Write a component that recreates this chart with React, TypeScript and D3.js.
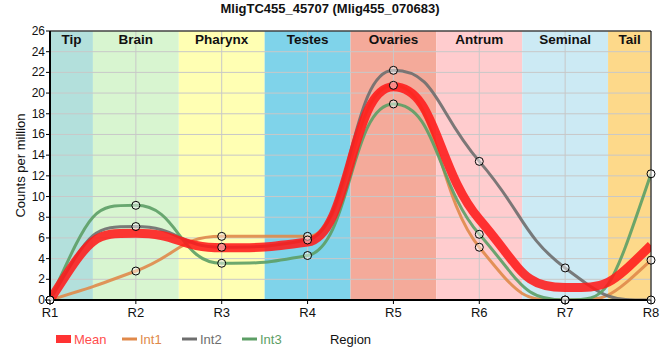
import React from "react";
import * as d3 from "d3";

const regions = ["R1", "R2", "R3", "R4", "R5", "R6", "R7", "R8"];
const bandNames = ["Tip", "Brain", "Pharynx", "Testes", "Ovaries", "Antrum", "Seminal", "Tail"];
const bandColors = ["#b3e0dc", "#d8f5d0", "#ffffb3", "#7fd3ea", "#f4aa9a", "#ffccce", "#cceaf4", "#fdd98a"];
const int1 = [0, 2.8, 6.15, 6.15, 20.75, 5.1, 0, 3.85];
const int2 = [0, 7.1, 5.1, 5.8, 22.2, 13.4, 3.1, 0];
const int3 = [0, 9.15, 3.55, 4.3, 18.95, 6.35, 0, 12.2];
const mean = [0, 6.45, 5.05, 5.6, 20.6, 7.8, 1.2, 5.3];
const yTicks = [0, 2, 4, 6, 8, 10, 12, 14, 16, 18, 20, 22, 24, 26];

const W = 660, H = 360;
const L = 50, R = 651, T = 31, B = 300;
const ARM = 0.5;

// monotone-style tangents with long, flat Bezier arms (plateaus at extremes)
function smoothPath(pts: [number, number][]): string {
  const n = pts.length;
  const s: number[] = [];
  for (let i = 0; i < n - 1; i++) s.push((pts[i + 1][1] - pts[i][1]) / (pts[i + 1][0] - pts[i][0]));
  const m: number[] = new Array(n).fill(0);
  for (let i = 1; i < n - 1; i++) {
    const s0 = s[i - 1], s1 = s[i];
    const p = (s0 + s1) / 2;
    m[i] = (Math.sign(s0) + Math.sign(s1)) * Math.min(Math.abs(s0), Math.abs(s1), 0.5 * Math.abs(p)) || 0;
  }
  m[0] = 2 * s[0] - m[1];
  m[n - 1] = 2 * s[n - 2] - m[n - 2];
  const path = d3.path();
  path.moveTo(pts[0][0], pts[0][1]);
  for (let i = 0; i < n - 1; i++) {
    const [x0, y0] = pts[i];
    const [x1, y1] = pts[i + 1];
    const h = x1 - x0;
    const a = h * ARM;
    path.bezierCurveTo(x0 + a, y0 + m[i] * a, x1 - a, y1 - m[i + 1] * a, x1, y1);
  }
  return path.toString();
}

export default function App() {
  const x = d3.scalePoint<string>().domain(regions).range([L, R]);
  const y = d3.scaleLinear().domain([0, 26]).range([B, T]);
  const step = x.step();
  const toPath = (data: number[]) =>
    smoothPath(data.map((v, i) => [x(regions[i]) as number, y(v)] as [number, number]));

  const series = [
    { name: "Int1", data: int1, color: "#e0894a" },
    { name: "Int2", data: int2, color: "#6e6e6e" },
    { name: "Int3", data: int3, color: "#5c9e65" },
  ];

  return (
    <svg
      width={W}
      height={H}
      style={{ position: "absolute", left: 0, top: 0, background: "#fff" }}
      fontFamily="'Liberation Sans', Arial, sans-serif"
    >
      <defs>
        <clipPath id="plot">
          <rect x={L} y={T} width={R - L} height={B - T} />
        </clipPath>
      </defs>
      {/* bands */}
      {bandNames.map((n, i) => {
        const cx = x(regions[i]) as number;
        const x0 = Math.max(L, cx - step / 2);
        const x1 = Math.min(R, cx + step / 2);
        return <rect key={n} x={x0} y={T} width={x1 - x0} height={B - T} fill={bandColors[i]} />;
      })}
      {/* grid */}
      {yTicks.map((t) => (
        <line key={"h" + t} x1={L} x2={R} y1={y(t)} y2={y(t)} stroke="#c8c8c8" strokeWidth={1} />
      ))}
      {regions.map((r) => (
        <line key={"v" + r} x1={x(r)} x2={x(r)} y1={T} y2={B} stroke="#c8c8c8" strokeWidth={1} />
      ))}
      {/* band labels */}
      {bandNames.map((n, i) => {
        const cx = x(regions[i]) as number;
        const x0 = Math.max(L, cx - step / 2);
        const x1 = Math.min(R, cx + step / 2);
        return (
          <text key={"l" + n} x={(x0 + x1) / 2} y={T + 12.5} textAnchor="middle" fontSize={13.5} fontWeight="bold" fill="#111">
            {n}
          </text>
        );
      })}
      {/* lines */}
      <g clipPath="url(#plot)">
        {series.map((s) => (
          <path key={s.name} d={toPath(s.data)} fill="none" stroke={s.color} strokeWidth={3} strokeOpacity={0.9} />
        ))}
        <path d={toPath(mean)} fill="none" stroke="#ff1a1a" strokeWidth={9} strokeOpacity={0.88} />
      </g>
      {/* frame */}
      <line x1={L} x2={R} y1={T} y2={T} stroke="#000" strokeWidth={1} />
      <line x1={R} x2={R} y1={T} y2={B} stroke="#000" strokeWidth={1} />
      <line x1={L} x2={L} y1={T} y2={B + 1} stroke="#000" strokeWidth={2} />
      <line x1={L - 1} x2={R} y1={B} y2={B} stroke="#000" strokeWidth={2} />
      {/* markers */}
      {series.map((s) =>
        s.data.map((v, i) => (
          <circle
            key={s.name + i}
            cx={x(regions[i])}
            cy={y(v)}
            r={4}
            fill="#fff"
            fillOpacity={0.45}
            stroke="#000"
            strokeWidth={1}
          />
        ))
      )}
      {/* y ticks */}
      {yTicks.map((t) => (
        <g key={"yt" + t}>
          <line x1={L - 4} x2={L} y1={y(t)} y2={y(t)} stroke="#000" />
          <text x={L - 5} y={y(t) + 4} textAnchor="end" fontSize={12} fill="#111">
            {t}
          </text>
        </g>
      ))}
      {/* x ticks */}
      {regions.map((r) => (
        <g key={"xt" + r}>
          <line x1={x(r)} x2={x(r)} y1={B} y2={B + 4} stroke="#000" />
          <text x={x(r)} y={B + 17} textAnchor="middle" fontSize={13} fill="#111">
            {r}
          </text>
        </g>
      ))}
      {/* title */}
      <text x={330} y={13} textAnchor="middle" fontSize={13} fontWeight="bold" fill="#111">
        MligTC455_45707 (Mlig455_070683)
      </text>
      <text transform={`translate(25,${(T + B) / 2}) rotate(-90)`} textAnchor="middle" fontSize={13} fill="#111">
        Counts per million
      </text>
      <text x={(L + R) / 2} y={344} textAnchor="middle" fontSize={13} fill="#111">
        Region
      </text>
      {/* legend */}
      <rect x={56} y={335} width={15} height={8} fill="#ff3333" />
      <text x={74} y={344} fontSize={13} fill="#ff4d4d">Mean</text>
      {series.map((s, i) => {
        const sx = 122 + i * 60;
        return (
          <g key={"lg" + s.name}>
            <line x1={sx} x2={sx + 15} y1={339} y2={339} stroke={s.color} strokeWidth={3} />
            <text x={sx + 18} y={344} fontSize={13} fill={s.color}>
              {s.name}
            </text>
          </g>
        );
      })}
    </svg>
  );
}
